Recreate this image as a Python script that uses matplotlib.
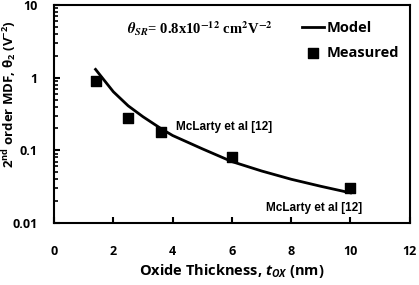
import numpy as np
import matplotlib
matplotlib.use("Agg")
import matplotlib.pyplot as plt
from matplotlib.ticker import LogLocator, NullFormatter

# measured points
meas_x = [1.4, 2.5, 3.6, 6.0, 10.0]
meas_y = [0.90, 0.28, 0.18, 0.080, 0.030]

# model curve
model_x = [1.4, 2.0, 2.5, 3.0, 3.6, 4.0, 5.0, 6.0, 7.0, 8.0, 9.0, 10.0]
model_y = [1.30, 0.64, 0.41, 0.29, 0.20, 0.16, 0.105, 0.070, 0.052, 0.040, 0.032, 0.026]

x_ticks = [0, 2, 4, 6, 8, 10, 12]
y_ticks = [0.01, 0.1, 1, 10]
y_labels = ["0.01", "0.1", "1", "10"]

plt.rcParams['font.family'] = ['Open Sans', 'DejaVu Sans']
plt.rcParams['mathtext.fontset'] = 'custom'
plt.rcParams['mathtext.rm'] = 'Open Sans:bold'
plt.rcParams['mathtext.bf'] = 'Open Sans:bold'
plt.rcParams['mathtext.it'] = 'Open Sans:italic:bold'

fig = plt.figure(figsize=(4.19, 2.85), dpi=100)
ax = fig.add_axes([0.129, 0.2175, 0.849, 0.765])

ax.plot(model_x, model_y, color='black', lw=2, label='Model')
ax.scatter(meas_x, meas_y, marker='s', s=55, color='black', label='Measured', zorder=3)

ax.set_yscale('log')
ax.set_xlim(0, 12)
ax.set_ylim(0.01, 10)
ax.set_xticks(x_ticks)
ax.set_yticks(y_ticks)
ax.set_yticklabels(y_labels)
ax.yaxis.set_minor_locator(LogLocator(base=10, subs=np.arange(2, 10)))
ax.yaxis.set_minor_formatter(NullFormatter())
ax.tick_params(axis='both', which='major', direction='in', length=4, width=1.5,
               labelsize=9)
ax.tick_params(axis='x', pad=16)
ax.tick_params(axis='y', pad=12)
ax.tick_params(axis='y', which='minor', direction='in', length=3, width=1.2)
for lab in ax.get_xticklabels() + ax.get_yticklabels():
    lab.set_fontweight('bold')
for s in ax.spines.values():
    s.set_linewidth(1.5)

ax.set_xlabel(r'Oxide Thickness, $t_{OX}$ (nm)', fontsize=10.5,
              fontweight='bold', labelpad=3)
ax.set_ylabel('2$^{\\mathrm{nd}}$ order MDF, θ$_{2}$ (V$^{-2}$)',
              fontsize=9.5, fontweight='bold')
ax.yaxis.set_label_coords(-0.1, 0.59)

ax.text(0.205, 0.893, r'$\mathbfit{\theta}_{\mathbfit{SR}}$= 0.8x10$^{\mathbf{-12}}$ cm$^{\mathbf{2}}$V$^{\mathbf{-2}}$',
        transform=ax.transAxes, fontsize=10.5, fontweight='bold',
        family='Liberation Serif', math_fontfamily='stix', va='center')
ax.text(4.1, 0.172, 'McLarty et al [12]', fontsize=8.5, fontweight='bold',
        family='Liberation Sans', va='bottom')
ax.text(7.15, 0.0160, 'McLarty et al [12]', fontsize=8.5, fontweight='bold',
        family='Liberation Sans', va='center')

leg = ax.legend(loc='upper right', bbox_to_anchor=(1.0, 0.975), frameon=False,
                handlelength=1.5, handletextpad=0.2, borderaxespad=0.3,
                labelspacing=0.75, prop={'weight': 'bold', 'size': 10.5})

fig.savefig('out.png', dpi=100)
